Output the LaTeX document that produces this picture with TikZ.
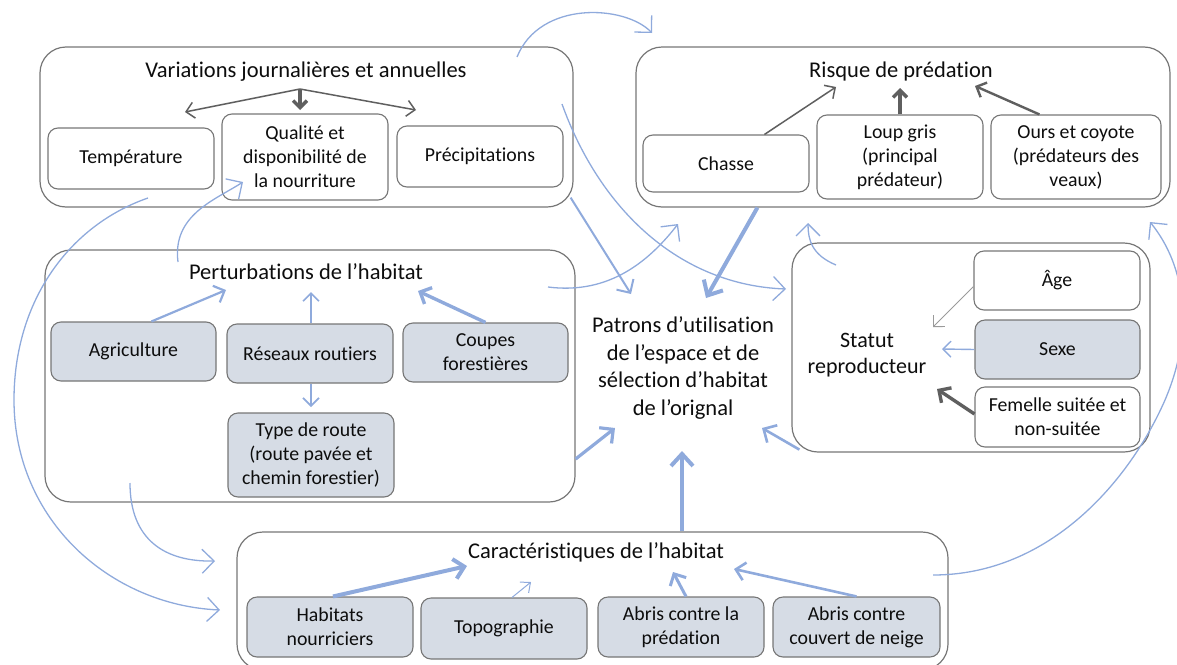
\documentclass[tikz,border=0pt]{standalone}
\usepackage{fontspec}
\setmainfont{Carlito}[Ligatures=NoCommon]
\usetikzlibrary{arrows.meta,calc}
\definecolor{bordergray}{HTML}{767676}
\definecolor{boxfill}{HTML}{D6DCE5}
\definecolor{arrowblue}{HTML}{8FAADC}
\definecolor{arrowgray}{HTML}{5F5F5F}
\definecolor{agegray}{HTML}{9A9A9A}
\definecolor{textblack}{HTML}{0D0D0D}
\begin{document}
\begin{tikzpicture}[x=1pt,y=-1pt,
  outer/.style={draw=bordergray, line width=1.2pt, rounded corners=26pt, inner sep=0pt},
  box/.style={draw=bordergray, line width=1.1pt, rounded corners=10pt, align=center, inner sep=0pt,
     text=textblack, font=\fontsize{19.8}{24}\selectfont},
  shaded/.style={box, fill=boxfill},
  ttl/.style={text=textblack, font=\fontsize{22.5}{26}\selectfont, inner sep=0pt},
  ctr/.style={text=textblack, font=\fontsize{22.5}{27.5}\selectfont, align=center, inner sep=0pt},
  sttl/.style={text=textblack, font=\fontsize{22}{26}\selectfont, align=center, inner sep=0pt},
  blu/.style={draw=arrowblue, line width=1.3pt, -{Straight Barb[length=12pt,width=24pt]}},
  gry/.style={draw=arrowgray, line width=1.5pt, -{Straight Barb[length=8pt,width=16pt]}},
  grythick/.style={draw=arrowgray, line width=3.4pt, -{Straight Barb[length=7pt,width=14pt]}}
]
\useasboundingbox (0,0) rectangle (1177,664);
\clip (0,0) rectangle (1177,664);

% outer boxes
\node[outer, minimum width=533pt, minimum height=160pt] (var) at (306.5,127) {};
\node[outer, minimum width=534pt, minimum height=160pt] (ris) at (903,127) {};
\node[outer, minimum width=530pt, minimum height=252pt] (per) at (310,376) {};
\node[outer, minimum width=358pt, minimum height=209pt] (sta) at (971,347.5) {};
\node[outer, minimum width=711pt, minimum height=138pt] (car) at (592.5,601) {};

% titles
\node[ttl] (vtitle) at (306,72) {Variations journalières et annuelles};
\node[ttl] (rtitle) at (901,71) {Risque de prédation};
\node[ttl] (ptitle) at (306,272) {Perturbations de l’habitat};
\node[ttl] (ctitle) at (596,552) {Caractéristiques de l’habitat};
\node[ctr] (patrons) at (683,368) {Patrons d’utilisation\\de l’espace et de\\sélection d’habitat\\de l’orignal};
\node[sttl] (statut) at (867,355) {Statut\\reproducteur};

% inner boxes
\node[box, minimum width=166pt, minimum height=61pt] (temp) at (131,158.5) {Température};
\node[box, minimum width=166pt, minimum height=86pt] (qual) at (305,157) {Qualité et\\disponibilité de\\la nourriture};
\node[box, minimum width=166pt, minimum height=61pt] (prec) at (480,156.5) {Précipitations};

\node[box, minimum width=166pt, minimum height=57pt] (chasse) at (726,163.5) {Chasse};
\node[box, minimum width=166pt, minimum height=84pt] (loup) at (900,157) {Loup gris\\(principal\\prédateur)};
\node[box, minimum width=170pt, minimum height=84pt] (ours) at (1076,157) {Ours et coyote\\(prédateurs des\\veaux)};

\node[shaded, minimum width=165pt, minimum height=59pt] (agri) at (133.5,351.5) {Agriculture};
\node[shaded, minimum width=166pt, minimum height=59pt] (res) at (310,353.5) {Réseaux routiers};
\node[shaded, minimum width=165pt, minimum height=59pt] (coupes) at (485.5,352.5) {Coupes\\forestières};
\node[shaded, minimum width=166pt, minimum height=84pt] (type) at (311,455) {Type de route\\(route pavée et\\chemin forestier)};

\node[box, minimum width=166pt, minimum height=59pt] (age) at (1057,280.5) {Âge};
\node[shaded, minimum width=165pt, minimum height=59pt] (sexe) at (1057.5,349.5) {Sexe};
\node[box, minimum width=165pt, minimum height=60pt] (fem) at (1057.5,417) {Femelle suitée et\\non-suitée};

\node[shaded, minimum width=166pt, minimum height=60pt] (hab) at (330,627) {Habitats\\nourriciers};
\node[shaded, minimum width=166pt, minimum height=61pt] (topo) at (504,628.5) {Topographie};
\node[shaded, minimum width=166pt, minimum height=60pt] (abp) at (681,627) {Abris contre la\\prédation};
\node[shaded, minimum width=167pt, minimum height=60pt] (abn) at (856.5,627) {Abris contre\\couvert de neige};

% arrow end coordinates
\coordinate (vsplit) at (300,89);
\coordinate (vl) at (185,112);
\coordinate (vm) at (300,110);
\coordinate (vr) at (416,110);
\coordinate (rc) at (836,87);
\coordinate (rl) at (900,88);
\coordinate (ro) at (975,86);
\coordinate (pa) at (226,290);
\coordinate (pr) at (311,292);
\coordinate (pc) at (418,291);
\coordinate (pt) at (311,407);
\coordinate (sa) at (933,327);
\coordinate (ss) at (942,349);
\coordinate (sf) at (937,389);
\coordinate (ch) at (467,566);
\coordinate (ct) at (531,582);
\coordinate (cp) at (673,572);
\coordinate (cn) at (734,569);
\coordinate (pris) at (706,298);
\coordinate (pcar) at (682,451);
\coordinate (pper) at (615,428);
\coordinate (psta) at (762,428);
\coordinate (pvar) at (631,294);

% variations arrows
\draw[gry] (vsplit) -- (vl);
\draw[gry] (vsplit) -- (vr);
\draw[grythick] (vsplit) -- (vm);

% risque arrows
\draw[gry] ($(chasse.north west)+(122,0)$) -- (rc);
\draw[grythick] (loup.north) -- (rl);
\draw[draw=arrowgray, line width=2.4pt, -{Straight Barb[length=8pt,width=16pt]}] ($(ours.north west)+(49,0)$) -- (ro);

% perturbations arrows
\draw[draw=arrowblue, line width=2.2pt, -{Straight Barb[length=9pt,width=18pt]}] ($(agri.north west)+(101,0)$) -- (pa);
\draw[draw=arrowblue, line width=1.6pt, -{Straight Barb[length=8pt,width=16pt]}] ($(res.north)+(1,0)$) -- (pr);
\draw[draw=arrowblue, line width=3.4pt, -{Straight Barb[length=9pt,width=18pt]}] (coupes.north) -- (pc);
\draw[draw=arrowblue, line width=1.6pt, -{Straight Barb[length=8pt,width=16pt]}] ($(res.south)+(1,0)$) -- (pt);

% statut arrows
\draw[draw=agegray, line width=0.9pt, -{Straight Barb[length=8pt,width=16pt]}] ($(age.west)+(0,6)$) -- (sa);
\draw[draw=arrowblue, line width=1.4pt, -{Straight Barb[length=8pt,width=16pt]}] (sexe.west) -- (ss);
\draw[draw=arrowgray, line width=3.4pt, -{Straight Barb[length=9pt,width=18pt]}] ($(fem.west)+(0,-3)$) -- (sf);

% caracteristiques arrows
\draw[draw=arrowblue, line width=4pt, -{Straight Barb[length=10pt,width=20pt]}] ($(hab.north)+(3,0)$) -- (ch);
\draw[draw=arrowblue, line width=1pt, -{Straight Barb[length=8pt,width=14pt]}] ($(topo.north)+(8,0)$) -- (ct);
\draw[draw=arrowblue, line width=3pt, -{Straight Barb[length=9pt,width=18pt]}] ($(abp.north)+(5,0)$) -- (cp);
\draw[draw=arrowblue, line width=2.6pt, -{Straight Barb[length=9pt,width=18pt]}] (abn.north) -- (cn);

% arrows to the centre
\draw[draw=arrowblue, line width=4pt, -{Straight Barb[length=12pt,width=22pt]}] ($(ris.south west)+(122,0)$) -- (pris);
\draw[draw=arrowblue, line width=4pt, -{Straight Barb[length=12pt,width=22pt]}] (car.north -| pcar) -- (pcar);
\draw[draw=arrowblue, line width=3.2pt, -{Straight Barb[length=10pt,width=20pt]}] ($(per.east)+(0,83)$) -- (pper);
\draw[draw=arrowblue, line width=2.6pt, -{Straight Barb[length=10pt,width=20pt]}] ($(sta.south west)+(8,-3)$) -- (psta);
\draw[draw=arrowblue, line width=2pt, -{Straight Barb[length=10pt,width=20pt]}] ($(var.south east)+(-3,-10)$) -- (pvar);

% curved arrows
\coordinate (c1a) at (517,57);
\coordinate (c1b) at (652,33);
\draw[blu] (c1a) .. controls (540,0) and (625,5) .. (c1b);
\coordinate (c2a) at (562,104);
\coordinate (c2b) at (786,289);
\draw[blu] (c2a) .. controls (600,210) and (680,285) .. (c2b);
\coordinate (c3a) at (548,287);
\coordinate (c3b) at (678,224);
\draw[blu] (c3a) .. controls (610,295) and (650,260) .. (c3b);
\coordinate (c4a) at (836,265);
\coordinate (c4b) at (808,223);
\draw[blu] (c4a) .. controls (812,255) and (808,240) .. (c4b);
\coordinate (c5a) at (933,575);
\coordinate (c5b) at (1150,222);
\draw[blu] (c5a) .. controls (1050,575) and (1130,480) .. (1165,400) .. controls (1195,330) and (1185,265) .. (c5b);
\coordinate (c6a) at (148,198);
\coordinate (c6b) at (220,610);
\draw[blu] (c6a) .. controls (70,225) and (14,300) .. (14,400) .. controls (14,520) and (110,605) .. (c6b);
\coordinate (c7a) at (130,483);
\coordinate (c7b) at (215,561);
\draw[blu] (c7a) .. controls (130,540) and (165,562) .. (c7b);
\coordinate (c8a) at (178,262);
\coordinate (c8b) at (243,182);
\draw[blu] (c8a) .. controls (172,215) and (215,200) .. (c8b);
\end{tikzpicture}
\end{document}
